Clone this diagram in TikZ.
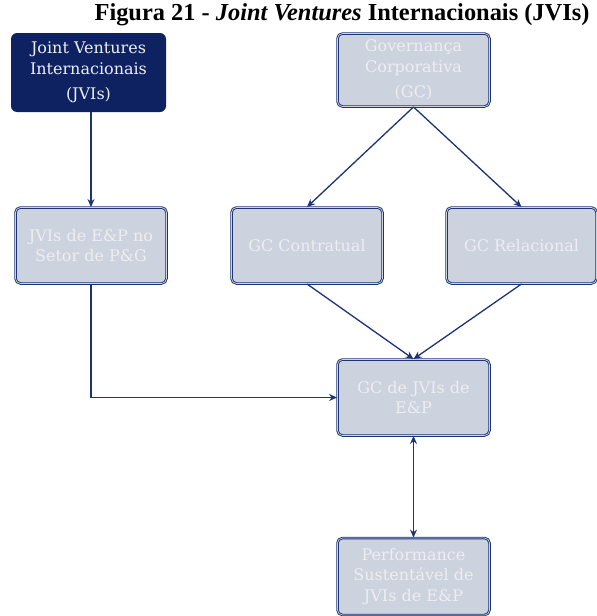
\documentclass[tikz,border=0pt]{standalone}
\usepackage{fontspec}
\newfontfamily\titlefont{Liberation Serif}
\newfontfamily\boxfont{DejaVu Serif}
\usetikzlibrary{arrows.meta}
\definecolor{navy}{HTML}{0E2262}
\definecolor{edge}{HTML}{1C3474}
\definecolor{boxfill}{HTML}{CDD2DF}
\definecolor{boxtext}{HTML}{EDEEF3}
\tikzset{
  lightbox/.style={draw=edge, double=boxfill, double distance=0.7pt, line width=0.9pt,
    fill=boxfill, rounded corners=5pt, text=boxtext, align=center,
    font=\boxfont\fontsize{16}{20.5}\selectfont, inner sep=2pt},
  darkbox/.style={fill=navy, rounded corners=6pt, text=boxtext, align=center,
    font=\boxfont\fontsize{16}{20.5}\selectfont, inner sep=2pt},
  link/.style={draw=edge, line width=1.3pt, -{Stealth[length=8pt,width=7pt]}},
  biglink/.style={draw=edge, line width=1.3pt, {Stealth[length=8pt,width=7pt]}-{Stealth[length=8pt,width=7pt]}}
}
\begin{document}
\begin{tikzpicture}[x=1pt,y=-1pt]
\useasboundingbox (0,0) rectangle (597,616);
\node[font=\titlefont\bfseries\fontsize{24.4}{26}\selectfont] (title) at (342,15)
  {Figura 21 - \textit{Joint Ventures} Internacionais (JVIs)};

\node[darkbox, minimum width=155pt, minimum height=79pt] (jv) at (88.5,72.5)
  {Joint Ventures\\Internacionais\\[5pt](JVIs)};
\node[lightbox, minimum width=152pt, minimum height=73pt] (gc) at (413.5,70)
  {Governança\\Corporativa\\[5pt](GC)};

\node[lightbox, minimum width=151pt, minimum height=76pt] (jve) at (91,245.5)
  {JVIs de E\&P no\\Setor de P\&G};
\node[lightbox, minimum width=151pt, minimum height=76pt] (gcc) at (307,245.5)
  {GC Contratual};
\node[lightbox, minimum width=150pt, minimum height=76pt] (gcr) at (521.5,245.5)
  {GC Relacional};

\node[lightbox, minimum width=152pt, minimum height=76pt] (gcj) at (413.5,397.5)
  {GC de JVIs de\\E\&P};
\node[lightbox, minimum width=152pt, minimum height=77pt] (perf) at (413.5,576.5)
  {Performance\\Sustentável de\\JVIs de E\&P};

\draw[link] (jve.north |- jv.south) -- (jve.north);
\draw[link] (gc.south) -- (gcc.north);
\draw[link] (gc.south) -- (gcr.north);
\draw[link] (gcc.south) -- (gcj.north);
\draw[link] (gcr.south) -- (gcj.north);
\draw[link] (jve.south) |- (gcj.west);
\draw[biglink] (gcj.south) -- (perf.north);
\end{tikzpicture}
\end{document}
